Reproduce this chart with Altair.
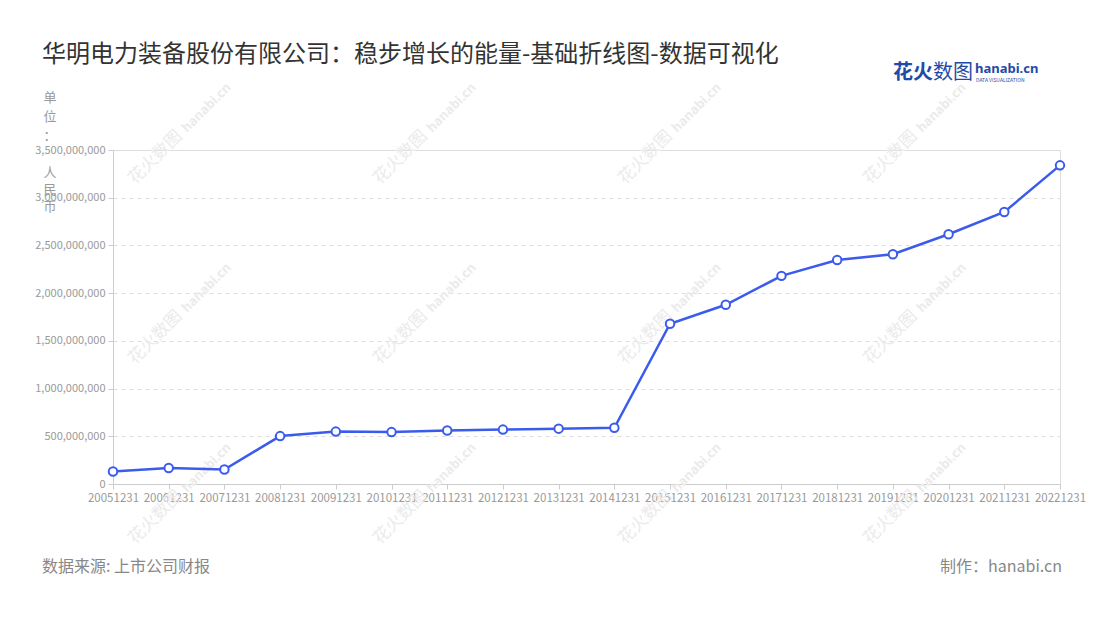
import altair as alt
import pandas as pd

dates = ["20051231", "20061231", "20071231", "20081231", "20091231", "20101231",
         "20111231", "20121231", "20131231", "20141231", "20151231", "20161231",
         "20171231", "20181231", "20191231", "20201231", "20211231", "20221231"]
values = [131e6, 167e6, 152e6, 502e6, 549e6, 544e6,
          560e6, 570e6, 580e6, 589e6, 1679e6, 1878e6,
          2181e6, 2348e6, 2408e6, 2617e6, 2850e6, 3339e6]
y_ticks = [0, 5e8, 1e9, 1.5e9, 2e9, 2.5e9, 3e9, 3.5e9]

title_text = "华明电力装备股份有限公司：稳步增长的能量-基础折线图-数据可视化"
y_title_top = ["单", "位", "："]
y_title_bottom = ["人", "民", "币"]
source_text = "数据来源: 上市公司财报"
credit_text = "制作：hanabi.cn"

df = pd.DataFrame({"date": dates, "value": values})

FONT = "Noto Sans CJK SC"
BLUE = "#3b5bec"
W, H = 947, 334

base = alt.Chart(df).encode(
    x=alt.X("date:N", sort=dates, title=None,
            scale=alt.Scale(type="point", padding=0),
            axis=alt.Axis(labelAngle=0, labelOverlap=False, labelFontSize=11.5,
                          labelColor="#9a9a9a", domainColor="#cccccc", tickColor="#cccccc",
                          tickSize=5, labelPadding=3, grid=False, labelFont=FONT)),
    y=alt.Y("value:Q", title=None,
            scale=alt.Scale(domain=[0, 3.5e9], nice=False, zero=True),
            axis=alt.Axis(values=y_ticks, format=",d", labelFontSize=11,
                          labelColor="#9a9a9a", domainColor="#cccccc", tickColor="#cccccc",
                          tickSize=5, labelPadding=3, grid=True, gridColor="#dddddd",
                          gridDash=[4, 4], gridWidth=1, labelFont=FONT)),
)

line = base.mark_line(color=BLUE, strokeWidth=2.5)
pts = base.mark_point(shape="circle", filled=True, fill="white", stroke=BLUE,
                      strokeWidth=2, size=72, opacity=1)


def txt(text, x, y, font=FONT, **kw):
    return alt.Chart(alt.Data(values=[{}])).mark_text(text=text, font=font, **kw).encode(
        x=alt.value(x), y=alt.value(y))


layers = []
# faint watermarks
for i in range(4):
    for j in range(3):
        wx = 22 + 245 * i
        wy = 35 + 180 * j
        layers.append(txt("花火数图", wx, wy, angle=315, fontSize=17,
                          color="#ebebeb", align="left", baseline="alphabetic"))
        layers.append(txt("hanabi.cn", wx + 52, wy - 52, angle=315, fontSize=13,
                          fontWeight="bold", color="#ebebeb", align="left",
                          baseline="alphabetic", font="Noto Sans"))

layers += [line, pts]

layers += [
    txt(title_text, -71, -95, fontSize=24, color="#333333", align="left", baseline="middle"),
    txt(y_title_top, -63, -58, fontSize=13, color="#9a9a9a", align="center",
        baseline="top", lineHeight=19),
    txt(y_title_bottom, -63, 17, fontSize=13, color="#9a9a9a", align="center",
        baseline="top", lineHeight=17),
    txt(source_text, -71, 417, fontSize=16, color="#888888", align="left", baseline="middle"),
    txt(credit_text, 949, 417, fontSize=16, color="#888888", align="right", baseline="middle"),
    txt("花火", 780, -77, fontSize=20, fontWeight="bold", color="#1f4aa8",
        align="left", baseline="middle"),
    txt("数图", 820, -77, fontSize=20, color="#1f4aa8",
        align="left", baseline="middle"),
    txt("hanabi.cn", 862, -81, fontSize=13, fontWeight="bold", color="#1f4aa8",
        align="left", baseline="middle", font="Noto Sans"),
    txt("DATA VISUALIZATION", 863, -70, fontSize=5, color="#1f4aa8",
        align="left", baseline="middle"),
]

chart = alt.layer(*layers).properties(
    width=W, height=H,
    autosize=alt.AutoSizeParams(type="none"),
    padding={"left": 105, "top": 142, "right": 32, "bottom": 128},
).configure_view(stroke=None).configure(font=FONT)

chart.save("out.html", embed_options={"renderer": "svg", "actions": False})
